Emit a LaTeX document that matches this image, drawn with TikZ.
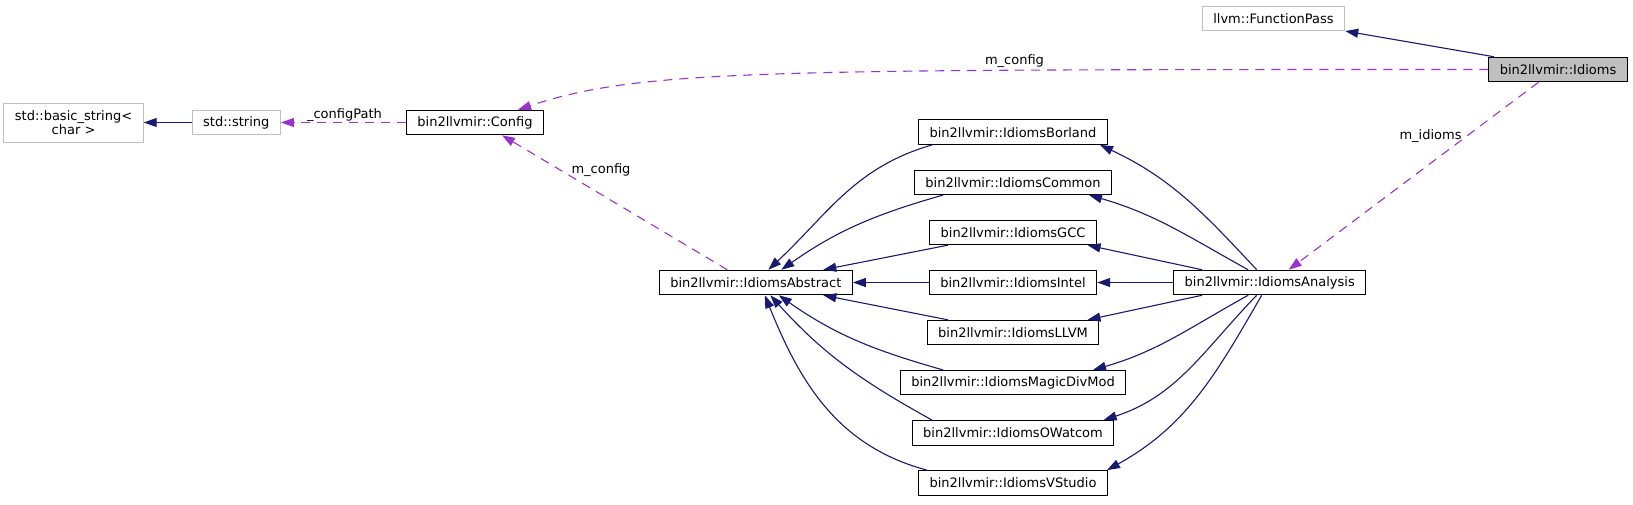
\documentclass[tikz,border=0pt]{standalone}
\usepackage{fontspec}
\setmainfont{DejaVu Sans}
\usetikzlibrary{arrows.meta,positioning}
\definecolor{edgeblue}{HTML}{191970}
\definecolor{refpurple}{HTML}{9A32CD}
\definecolor{extgray}{HTML}{BFBFBF}

\begin{document}
\begin{tikzpicture}[x=1pt,y=-1pt,
  cls/.style={draw=black,line width=1pt,font=\fontsize{13}{14}\selectfont,
    inner xsep=11pt,inner ysep=2pt,minimum height=24.5pt},
  ext/.style={cls,draw=extgray},
  focus/.style={cls,fill=extgray},
  lbl/.style={font=\fontsize{13}{14}\selectfont,inner sep=0pt},
  inh/.style={-{Triangle[length=13pt,width=9pt]},line width=1.1pt,draw=edgeblue},
  member/.style={-{Triangle[length=13pt,width=9pt]},line width=1.1pt,
    draw=refpurple,dash pattern=on 9pt off 7pt},node distance=24.6pt]
 \useasboundingbox (0,0) rectangle (1633,504);
 % idioms column
 \node[cls] (intel) at (1013,282.5) {bin2llvmir::IdiomsIntel};
 \node[cls,above=of intel] (gcc) {bin2llvmir::IdiomsGCC};
 \node[cls,above=of gcc] (common) {bin2llvmir::IdiomsCommon};
 \node[cls,above=of common] (borland) {bin2llvmir::IdiomsBorland};
 \node[cls,below=of intel] (llvm) {bin2llvmir::IdiomsLLVM};
 \node[cls,below=of llvm] (magic) {bin2llvmir::IdiomsMagicDivMod};
 \node[cls,below=of magic] (owatcom) {bin2llvmir::IdiomsOWatcom};
 \node[cls,below=of owatcom] (vstudio) {bin2llvmir::IdiomsVStudio};
 \node[cls,left=76pt of intel] (abstract) {bin2llvmir::IdiomsAbstract};
 \node[cls,right=76pt of intel] (analysis) {bin2llvmir::IdiomsAnalysis};
 % config and strings
 \node[cls] (config) at (475,122.5) {bin2llvmir::Config};
 \node[ext,left=125pt of config] (string) {std::string};
 \node[ext,left=48pt of string,align=center,minimum height=39pt] (basic)
   {std::basic\_string<\\char >};
 \node[focus] (idioms) at (1558,69.5) {bin2llvmir::Idioms};
 \node[ext] (fpass) at (1273.5,18.3) {llvm::FunctionPass};
 % labels
 \node[lbl] (lpath) at (344.5,115) {\_configPath};
 \node[lbl] (lcfgtop) at (1014.5,61) {m\_config};
 \node[lbl] (lcfgmid) at (601,170.5) {m\_config};
 \node[lbl] (lidioms) at (1430.5,136) {m\_idioms};

 \draw[inh] (string.west) -- (basic.east);
 \draw[inh] ([xshift=-64pt]idioms.north) -- (fpass.south east);
 \draw[member] (config.west) -- (string.east);
 \draw[member] (idioms.west) .. controls +(-727,0) and +(122,-40.5)
   .. ([xshift=43pt]config.north);
 \draw[member] ([xshift=-28.5pt]abstract.north) -- ([xshift=27pt]config.south);
 \draw[member] ([xshift=-19.5pt]idioms.south) -- ([xshift=19pt]analysis.north);

 \draw[inh] ([xshift=-81pt]borland.south) to[out=196,in=43] ([xshift=12.5pt]abstract.north);
 \draw[inh] ([xshift=-70pt]common.south) to[out=196,in=35] ([xshift=25.5pt]abstract.north);
 \draw[inh] ([xshift=-65pt]gcc.south) -- ([xshift=67.5pt]abstract.north);
 \draw[inh] (intel.west) -- (abstract.east);
 \draw[inh] ([xshift=-65pt]llvm.north) -- ([xshift=67.5pt]abstract.south);
 \draw[inh] ([xshift=-70pt]magic.north) to[out=164,in=-35] ([xshift=23pt]abstract.south);
 \draw[inh] ([xshift=-81pt]owatcom.north) to[out=151,in=-48] ([xshift=14.5pt]abstract.south);
 \draw[inh] ([xshift=-86pt]vstudio.north) to[out=165,in=-68] ([xshift=9pt]abstract.south);

 \draw[inh] ([xshift=-13pt]analysis.north) to[out=133,in=-25] ([xshift=87pt]borland.south);
 \draw[inh] ([xshift=-21.6pt]analysis.north) to[out=151,in=-16] ([xshift=76pt]common.south);
 \draw[inh] ([xshift=-67.6pt]analysis.north) -- ([xshift=74.5pt]gcc.south);
 \draw[inh] (analysis.west) -- (intel.east);
 \draw[inh] ([xshift=-67.6pt]analysis.south) -- ([xshift=74.5pt]llvm.north);
 \draw[inh] ([xshift=-21.6pt]analysis.south) to[out=209,in=16] ([xshift=80pt]magic.north);
 \draw[inh] ([xshift=-13pt]analysis.south) to[out=226,in=18] ([xshift=90.6pt]owatcom.north);
 \draw[inh] ([xshift=-8pt]analysis.south) to[out=240,in=29] ([xshift=94pt]vstudio.north);
\end{tikzpicture}
\end{document}
